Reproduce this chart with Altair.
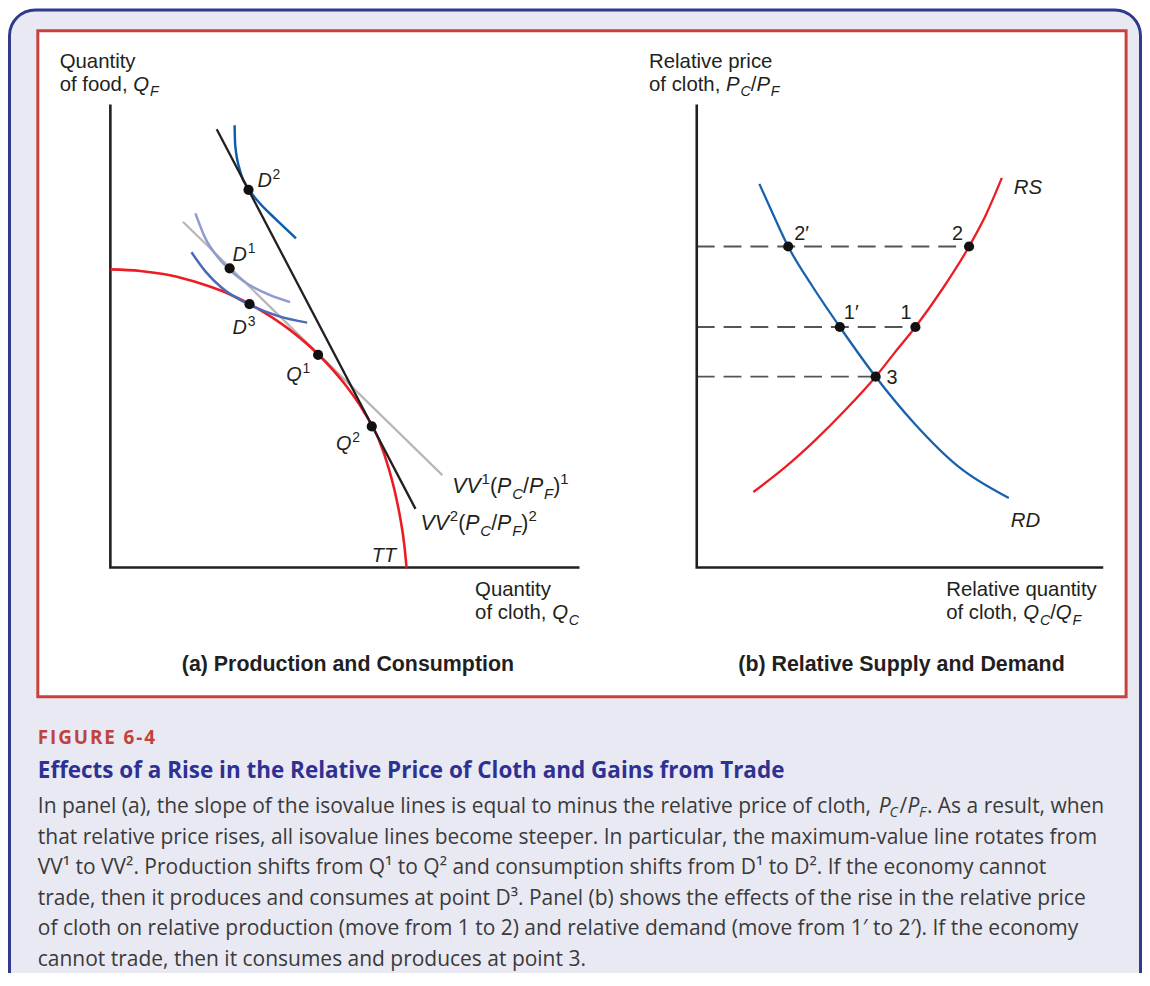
import altair as alt
import pandas as pd

# ---------------- Panel (a): production & consumption (quantity units) ----------------
tt_qc = [0, 7.5, 15, 22.5, 30, 37.5, 45, 52.5, 58.75, 63.75, 67.5, 70, 71.75, 73, 73.9, 74.5]
tt_qf = [75, 74.6, 73.5, 71.5, 68.75, 64.9, 59.9, 53.4, 46.4, 39.25, 32.25, 25, 18.25, 12, 6, 0]
vv1_qc = [18.25, 83.5]
vv1_qf = [87, 23.25]
vv2_qc = [26.75, 76.75]
vv2_qf = [110.25, 14.75]
ic2_qc = [31.25, 31.4, 32.7, 34.75, 37.25, 41.4, 46.7]
ic2_qf = [111.25, 106.25, 99.5, 95.25, 92, 87.8, 82.8]
ic1_qc = [21.4, 23.9, 27.25, 29.75, 34.75, 39.75, 45.2]
ic1_qf = [89.1, 82.8, 77.8, 75.1, 71.2, 68.7, 66.75]
ic3_qc = [20.4, 23.9, 28.1, 35.2, 42.25, 49.5]
ic3_qf = [79.3, 74.5, 70.3, 66.0, 63.25, 61.6]
pts_a_name = ["D2", "D1", "D3", "Q1", "Q2"]
pts_a_qc = [34.75, 30, 35, 52.25, 65.75]
pts_a_qf = [95, 75.25, 66.25, 53.5, 35.5]
axis_a_x = [0, 0, 118]
axis_a_y = [116.5, 0, 0]

# ---------------- Panel (b): relative supply & demand ----------------
rs_q = [14.25, 22.25, 29.75, 37.25, 45, 49.75, 55, 61.75, 68.5, 72.75, 76.75]
rs_p = [19, 25.25, 32, 39.5, 48, 54, 60.5, 70, 80.75, 88.75, 98]
rd_q = [15.75, 19.25, 23, 29.25, 36, 45, 54.75, 66, 78.5]
rd_p = [96.5, 88.75, 80.75, 70.5, 60.5, 48, 36.25, 25.25, 17.5]
pts_b_name = ["2′", "2", "1′", "1", "3"]
pts_b_q = [23, 68.5, 36, 55, 45]
pts_b_p = [80.75, 80.75, 60.5, 60.5, 48]
dash_p = [80.75, 60.5, 48]
dash_q_end = [68.5, 55, 45]
axis_b_x = [0, 0, 102.25]
axis_b_y = [116.5, 0, 0]

# ---------------- caption text ----------------
fig_no = "FIGURE 6-4"
fig_title = "Effects of a Rise in the Relative Price of Cloth and Gains from Trade"
body_lines = [
    "In panel (a), the slope of the isovalue lines is equal to minus the relative price of cloth,",
    "that relative price rises, all isovalue lines become steeper. In particular, the maximum-value line rotates from",
    "VV¹ to VV². Production shifts from Q¹ to Q² and consumption shifts from D¹ to D². If the economy cannot",
    "trade, then it produces and consumes at point D³. Panel (b) shows the effects of the rise in the relative price",
    "of cloth on relative production (move from 1 to 2) and relative demand (move from 1′ to 2′). If the economy",
    "cannot trade, then it consumes and produces at point 3.",
]
body_line1_end = ". As a result, when"

# ---------------- styles ----------------
LIB = "Liberation Sans"
CAPF = "Open Sans"
INK = "#231f20"
RED = "#ec1c24"
BLUE = "#1761ad"

XA = alt.Scale(domain=[0, 118], range=[103, 575], nice=False, zero=False)
YA = alt.Scale(domain=[0, 117], range=[560, 92], nice=False, zero=False)
XB = alt.Scale(domain=[0, 102.5], range=[693, 1103], nice=False, zero=False)
YB = alt.Scale(domain=[0, 117], range=[560, 92], nice=False, zero=False)

ONE = pd.DataFrame({"k": [0]})

ADV = {' ': 278, '(': 333, ')': 333, ',': 278, '/': 278, '.': 278, '-': 333,
       'A': 667, 'C': 722, 'D': 722, 'F': 611, 'P': 667, 'Q': 778, 'R': 722, 'S': 667,
       'T': 611, 'V': 667, 'a': 556, 'b': 556, 'c': 500, 'd': 556, 'e': 556, 'f': 278,
       'h': 556, 'i': 222, 'l': 222, 'm': 833, 'n': 556, 'o': 556, 'p': 556, 'q': 556,
       'r': 333, 's': 500, 't': 278, 'u': 556, 'v': 500, 'y': 500}


def tw(s, fs):
    return sum(ADV.get(c, 556) for c in s) * fs / 1000.0


def spec(kind, size):
    small = kind in ("sup", "sub", "isub")
    fs = size * 0.7 if small else size
    if kind == "sup":
        shift = -0.40 * size
    elif kind in ("sub", "isub"):
        shift = 0.27 * size
    else:
        shift = 0
    style = "italic" if kind in ("i", "isub") else "normal"
    pad = 0.04 * size if kind == "i" else 0.0
    return fs, shift, style, pad


def abs_text(x, y, parts, size, color=INK, weight="normal", font=LIB, align="left"):
    out = []
    cx = 0.0
    for txt, kind in parts:
        fs, shift, style, pad = spec(kind, size)
        out.append(
            alt.Chart(ONE).mark_text(text=txt, font=font, fontSize=fs, fontStyle=style,
                                     fontWeight=weight, color=color, align=align,
                                     baseline="alphabetic")
            .encode(x=alt.value(x + cx), y=alt.value(y + shift))
        )
        cx += tw(txt, fs) + pad
    return out


def anchored_text(df, xf, yf, xs, ys, dx0, dy0, parts, size, color=INK, align="left"):
    out = []
    cx = 0.0
    for txt, kind in parts:
        fs, shift, style, pad = spec(kind, size)
        out.append(
            alt.Chart(df).mark_text(text=txt, font=LIB, fontSize=fs, fontStyle=style,
                                    color=color, align=align, baseline="alphabetic",
                                    dx=dx0 + cx, dy=dy0 + shift)
            .encode(x=alt.X(f"{xf}:Q", scale=xs, axis=None),
                    y=alt.Y(f"{yf}:Q", scale=ys, axis=None))
        )
        cx += tw(txt, fs) + pad
    return out


def curve(xs_, ys_, xf, yf, xs, ys, color, width, interp="monotone"):
    df = pd.DataFrame({xf: xs_, yf: ys_, "o": list(range(len(xs_)))})
    return alt.Chart(df).mark_line(color=color, strokeWidth=width, interpolate=interp,
                                   strokeCap="butt").encode(
        x=alt.X(f"{xf}:Q", scale=xs, axis=None),
        y=alt.Y(f"{yf}:Q", scale=ys, axis=None),
        order="o:Q")


def row(xf, yf, x, y):
    return pd.DataFrame({xf: [x], yf: [y]})


# ---------------- panel (a) layers ----------------
pa = pd.DataFrame({"qc": pts_a_qc, "qf": pts_a_qf, "name": pts_a_name})
a_layers = [
    curve(axis_a_x, axis_a_y, "qc", "qf", XA, YA, INK, 2.6, "linear"),
    curve(vv1_qc, vv1_qf, "qc", "qf", XA, YA, "#b7b7b7", 2.2, "linear"),
    curve(tt_qc, tt_qf, "qc", "qf", XA, YA, RED, 2.6),
    curve(ic1_qc, ic1_qf, "qc", "qf", XA, YA, "#8d9bd0", 2.5),
    curve(ic3_qc, ic3_qf, "qc", "qf", XA, YA, "#4b6ab6", 2.5),
    curve(ic2_qc, ic2_qf, "qc", "qf", XA, YA, "#0d5eac", 2.5),
    curve(vv2_qc, vv2_qf, "qc", "qf", XA, YA, INK, 2.3, "linear"),
    alt.Chart(pa).mark_circle(size=105, color="#111111", opacity=1).encode(
        x=alt.X("qc:Q", scale=XA, axis=None), y=alt.Y("qf:Q", scale=YA, axis=None)),
]
LS = 20
lab_a = {
    "D2": (9, -3, [("D", "i"), ("2", "sup")]),
    "D1": (3, -7, [("D", "i"), ("1", "sup")]),
    "D3": (-17, 30, [("D", "i"), ("3", "sup")]),
    "Q1": (-32, 26, [("Q", "i"), ("1", "sup")]),
    "Q2": (-36, 24, [("Q", "i"), ("2", "sup")]),
}
for i, nm in enumerate(pts_a_name):
    dx0, dy0, parts = lab_a[nm]
    a_layers += anchored_text(row("qc", "qf", pts_a_qc[i], pts_a_qf[i]), "qc", "qf", XA, YA,
                              dx0, dy0, parts, LS)
a_layers += anchored_text(row("qc", "qf", tt_qc[-1], tt_qf[-1]), "qc", "qf", XA, YA,
                          -35, -6, [("TT", "i")], LS)
a_layers += anchored_text(row("qc", "qf", vv1_qc[-1], vv1_qf[-1]), "qc", "qf", XA, YA,
                          10, 18, [("VV", "i"), ("1", "sup"), ("(", "n"), ("P", "i"), ("C", "isub"),
                                   ("/", "n"), ("P", "i"), ("F", "isub"), (")", "n"), ("1", "sup")], 21.5)
a_layers += anchored_text(row("qc", "qf", vv2_qc[-1], vv2_qf[-1]), "qc", "qf", XA, YA,
                          5, 21, [("VV", "i"), ("2", "sup"), ("(", "n"), ("P", "i"), ("C", "isub"),
                                  ("/", "n"), ("P", "i"), ("F", "isub"), (")", "n"), ("2", "sup")], 21.5)
panel_a = alt.layer(*a_layers)

# ---------------- panel (b) layers ----------------
pb = pd.DataFrame({"q": pts_b_q, "p": pts_b_p, "name": pts_b_name})
dd = pd.DataFrame({"q0": [0] * len(dash_p), "qe": dash_q_end, "p": dash_p})
b_layers = [
    alt.Chart(dd).mark_rule(color="#555555", strokeWidth=1.8, strokeDash=[18, 9]).encode(
        x=alt.X("q0:Q", scale=XB, axis=None), x2="qe:Q",
        y=alt.Y("p:Q", scale=YB, axis=None)),
    curve(axis_b_x, axis_b_y, "q", "p", XB, YB, INK, 2.6, "linear"),
    curve(rs_q, rs_p, "q", "p", XB, YB, RED, 2.3),
    curve(rd_q, rd_p, "q", "p", XB, YB, BLUE, 2.3),
    alt.Chart(pb).mark_circle(size=105, color="#111111", opacity=1).encode(
        x=alt.X("q:Q", scale=XB, axis=None), y=alt.Y("p:Q", scale=YB, axis=None)),
]
lab_b = {
    "2′": (6, -7, "left"),
    "2": (-6, -7, "right"),
    "1′": (4, -8, "left"),
    "1": (-4, -8, "right"),
    "3": (11, 7, "left"),
}
for i, nm in enumerate(pts_b_name):
    dx0, dy0, al = lab_b[nm]
    b_layers += anchored_text(row("q", "p", pts_b_q[i], pts_b_p[i]), "q", "p", XB, YB,
                              dx0, dy0, [(nm, "n")], LS, align=al)
b_layers += anchored_text(row("q", "p", rs_q[-1], rs_p[-1]), "q", "p", XB, YB,
                          12, 16, [("RS", "i")], 20.5)
b_layers += anchored_text(row("q", "p", rd_q[-1], rd_p[-1]), "q", "p", XB, YB,
                          2, 29, [("RD", "i")], 20.5)
panel_b = alt.layer(*b_layers)

# ---------------- frame ----------------
frame = [
    alt.Chart(ONE).mark_rect(cornerRadius=26, fill="#e9e9f3", stroke="#2e3a8c", strokeWidth=3).encode(
        x=alt.value(1.5), x2=alt.value(1139.5), y=alt.value(-1), y2=alt.value(1010)),
    alt.Chart(ONE).mark_rect(fill="white", stroke="#c8423b", strokeWidth=3).encode(
        x=alt.value(30), x2=alt.value(1125), y=alt.value(20), y2=alt.value(690)),
]

# ---------------- titles / axis labels ----------------
AS = 20.5
texts = []
texts += abs_text(52, 57, [("Quantity", "n")], AS)
texts += abs_text(52, 80.5, [("of food, ", "n"), ("Q", "i"), ("F", "isub")], AS)
texts += abs_text(645, 57, [("Relative price", "n")], AS)
texts += abs_text(645, 80.5, [("of cloth, ", "n"), ("P", "i"), ("C", "isub"), ("/", "n"),
                              ("P", "i"), ("F", "isub")], AS)
texts += abs_text(470, 589, [("Quantity", "n")], AS)
texts += abs_text(470, 612, [("of cloth, ", "n"), ("Q", "i"), ("C", "isub")], AS)
texts += abs_text(944, 589, [("Relative quantity", "n")], AS)
texts += abs_text(944, 612, [("of cloth, ", "n"), ("Q", "i"), ("C", "isub"), ("/", "n"),
                             ("Q", "i"), ("F", "isub")], AS)
texts += abs_text(342, 664, [("(a) Production and Consumption", "n")], 21.5, weight="bold", align="center")
texts += abs_text(899, 664, [("(b) Relative Supply and Demand", "n")], 21.5, weight="bold", align="center")

# caption
hair = "\u200a"
texts += abs_text(30, 738, [(hair.join(fig_no), "n")], 19, color="#c0433a", weight="bold", font=CAPF)
texts += abs_text(30, 772, [(fig_title, "n")], 22.6, color="#2e3192", weight="bold", font=CAPF)
BS = 21.1
CAPC = "#3a3a3a"
for i, ln in enumerate(body_lines):
    texts += abs_text(30, 807 + 30.8 * i, [(ln, "n")], BS, color=CAPC, font=CAPF)
# italic P_C/P_F in first caption line
y1 = 807
for txt, x, dy, fs, st in [("P", 876, 0, BS, "italic"), ("C", 887, 4, 14.5, "italic"),
                           ("/", 897, 0, BS, "normal"), ("P", 905, 0, BS, "italic"),
                           ("F", 916.5, 4, 14.5, "italic")]:
    texts.append(alt.Chart(ONE).mark_text(text=txt, font=CAPF, fontSize=fs, fontStyle=st,
                                          color=CAPC, align="left", baseline="alphabetic")
                 .encode(x=alt.value(x), y=alt.value(y1 + dy)))
texts.append(alt.Chart(ONE).mark_text(text=body_line1_end, font=CAPF, fontSize=BS,
                                      color=CAPC, align="right", baseline="alphabetic")
             .encode(x=alt.value(1103), y=alt.value(y1)))

chart = alt.layer(*frame, panel_a, panel_b, *texts).resolve_scale(
    x="independent", y="independent"
).properties(
    width=1141, height=965, padding=0,
    autosize=alt.AutoSizeParams(type="none"),
    background="white",
).configure_view(strokeWidth=0)

chart.save("out.html", embed_options={"renderer": "svg", "actions": False})
